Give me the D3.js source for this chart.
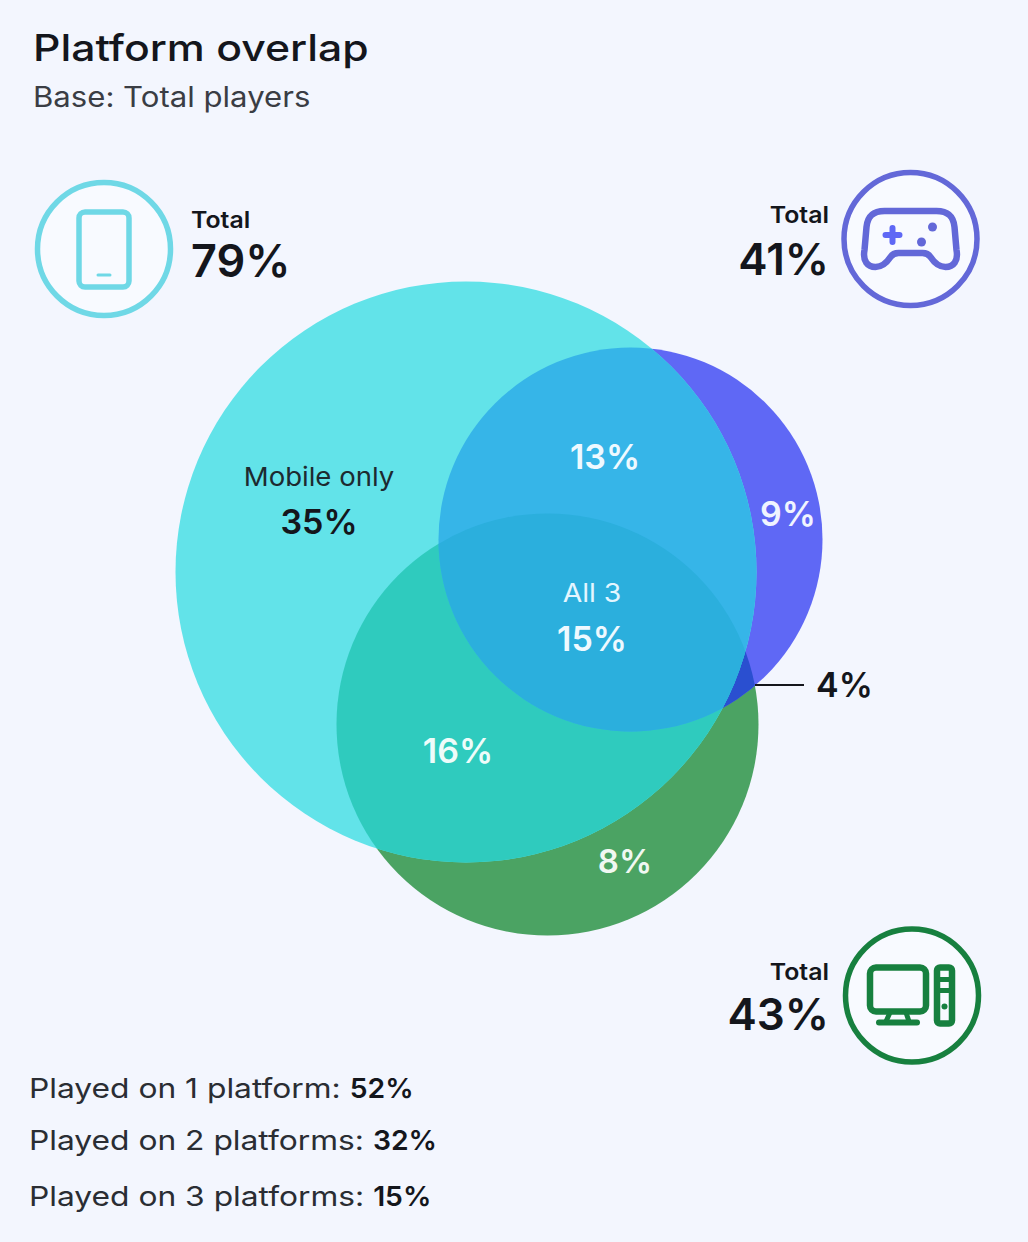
<!DOCTYPE html>
<html>
<head>
<meta charset="utf-8">
<script src="https://cdn.jsdelivr.net/npm/d3@7"></script>
<style>
  html, body { margin: 0; padding: 0; background: #f3f6fe; }
  svg { display: block; }
  text { font-family: Inter, "Noto Sans", sans-serif; fill: #14161c; }
</style>
</head>
<body>
<svg width="1028" height="1242"></svg>
<script>
// 数据
const platforms = ["Mobile", "Console", "PC"];
const platformTotals = [79, 41, 43];
const regionNames = ["Mobile only", "Console only", "PC only", "Mobile + Console", "Mobile + PC", "Console + PC", "All 3"];
const regionValues = [35, 9, 8, 13, 16, 4, 15];
const summaryLabels = ["Played on 1 platform: ", "Played on 2 platforms: ", "Played on 3 platforms: "];
const summaryValues = [52, 32, 15];

// 版面
const WIDTH = 1028, HEIGHT = 1242;
const radius = d3.scaleLinear().domain([41, 43, 79]).range([192, 211, 290.5]);
const centers = { Mobile: [466, 572], Console: [630.5, 539.5], PC: [547.5, 724.5] };
const platformColor = d3.scaleOrdinal().domain(platforms).range(["#62e3e9", "#5f68f5", "#4ba363"]);
const iconColor = d3.scaleOrdinal().domain(platforms).range(["#6fd8e6", "#6368d8", "#17803f"]);
const fmt = v => v + "%";

const svg = d3.select("svg");
svg.append("rect").attr("width", WIDTH).attr("height", HEIGHT).attr("fill", "#f3f6fe");

// 字体偏窄 横向拉宽
function addText(parent, x, y, str, size, k, weight, color, anchor) {
  return parent.append("text")
    .attr("transform", "translate(" + x + "," + y + ") scale(" + k + ",1)")
    .attr("font-size", size)
    .attr("font-weight", weight || 400)
    .attr("text-anchor", anchor || "start")
    .style("fill", color || "#14161c")
    .text(str);
}

addText(svg, 33, 61, "Platform overlap", 37, 1.155, 500);
addText(svg, 33, 107, "Base: Total players", 28, 1.112, 400, "#3a3d44");

// clip 圆
const defs = svg.append("defs");
platforms.forEach(p => {
  defs.append("clipPath").attr("id", "clip" + p).append("circle")
    .attr("cx", centers[p][0]).attr("cy", centers[p][1])
    .attr("r", radius(platformTotals[platforms.indexOf(p)]));
});

const venn = svg.append("g");

// 三个圆
function circleOf(parent, p, fill) {
  return parent.append("circle")
    .attr("cx", centers[p][0]).attr("cy", centers[p][1])
    .attr("r", radius(platformTotals[platforms.indexOf(p)]))
    .attr("fill", fill);
}
["PC", "Console", "Mobile"].forEach(p => circleOf(venn, p, platformColor(p)));

// 交集 一层层裁剪
function overlap(a, b, fill) {
  const outer = venn.append("g").attr("clip-path", "url(#clip" + a + ")");
  circleOf(outer, b, fill);
}
overlap("Console", "PC", "#2a4fd0");
overlap("Mobile", "PC", "#2fcbbe");
overlap("Mobile", "Console", "#36b5e8");
const triple = venn.append("g").attr("clip-path", "url(#clipMobile)")
  .append("g").attr("clip-path", "url(#clipConsole)");
circleOf(triple, "PC", "#2bafdd");

// 区域标签
const regionText = [
  { i: 0, x: 319, y: 534, size: 34, color: "#14161c", capY: 486, capX: 319, capK: 1.06, capColor: "#1d2a30" },
  { i: 1, x: 788, y: 526, size: 34, color: "#f0f4ff" },
  { i: 2, x: 625, y: 873, size: 33, color: "#f0f8f2" },
  { i: 3, x: 605, y: 469, size: 34, color: "#eef9ff" },
  { i: 4, x: 458, y: 763, size: 34, color: "#eefcfa" },
  { i: 6, x: 592, y: 651, size: 34, color: "#eef9ff", capY: 602, capX: 592, capK: 1.09, capColor: "#e4f6ff" }
];
regionText.forEach(d => {
  addText(svg, d.x, d.y, fmt(regionValues[d.i]), d.size, 1, 600, d.color, "middle");
  if (d.capY) addText(svg, d.capX, d.capY, regionNames[d.i], 26, d.capK, 400, d.capColor, "middle");
});

// 4% 引线
svg.append("line").attr("x1", 755).attr("x2", 804).attr("y1", 685).attr("y2", 685)
  .attr("stroke", "#14161c").attr("stroke-width", 2);
addText(svg, 816, 697, fmt(regionValues[5]), 34, 1, 600);

// 总计
const totalText = [
  { x: 191, anchor: "start", yCap: 228, yVal: 277, size: 45 },
  { x: 829, anchor: "end", yCap: 223, yVal: 275, size: 44 },
  { x: 829, anchor: "end", yCap: 980, yVal: 1030, size: 44 }
];
platforms.forEach((p, i) => {
  const t = totalText[i];
  addText(svg, t.x, t.yCap, "Total", 23, 1.08, 600, "#14161c", t.anchor);
  addText(svg, t.x, t.yVal, fmt(platformTotals[i]), t.size, 1, 600, "#14161c", t.anchor);
});

// 图标
function badge(cx, cy, p) {
  const c = iconColor(p);
  const g = svg.append("g").attr("transform", "translate(" + cx + "," + cy + ")")
    .attr("fill", "none").attr("stroke", c).attr("stroke-width", 5.5)
    .attr("stroke-linecap", "round").attr("stroke-linejoin", "round");
  g.append("circle").attr("r", 66.5).attr("fill", "#f8faff");
  return g;
}

const phone = badge(104, 249, "Mobile");
phone.append("rect").attr("x", -25).attr("y", -37).attr("width", 50).attr("height", 75).attr("rx", 6);
phone.append("line").attr("x1", -6).attr("x2", 6).attr("y1", 26).attr("y2", 26).attr("stroke-width", 3);

const pad = badge(910.5, 239, "Console");
pad.append("path").attr("stroke-width", 6.5).attr("d",
  "M-26,-28 L26,-28 C38,-28 43,-22 44,-12 L46,11 C48,22 43,28 35,28 C28,28 24,24 20,18 " +
  "C18,15 16,14 12,14 L-12,14 C-16,14 -18,15 -20,18 C-24,24 -28,28 -35,28 " +
  "C-43,28 -48,22 -46,11 L-44,-12 C-43,-22 -38,-28 -26,-28 Z");
pad.append("path").attr("d", "M-18,-11 V3 M-25,-4 H-11").attr("stroke", "#5f68f5").attr("stroke-width", 6);
pad.append("circle").attr("cx", 22).attr("cy", -12).attr("r", 4.5).attr("fill", "#6368d8").attr("stroke", "none");
pad.append("circle").attr("cx", 11).attr("cy", 3).attr("r", 4.5).attr("fill", "#6368d8").attr("stroke", "none");

const pc = badge(912, 995.5, "PC");
pc.append("rect").attr("x", -42).attr("y", -28).attr("width", 56).attr("height", 44).attr("rx", 6).attr("stroke-width", 6.5);
pc.append("path").attr("d", "M-22,17 L-26,26 M-6,17 L-3,26").attr("stroke-width", 5);
pc.append("line").attr("x1", -33).attr("x2", 5).attr("y1", 27).attr("y2", 27).attr("stroke-width", 6);
pc.append("rect").attr("x", 25).attr("y", -28).attr("width", 15).attr("height", 56).attr("rx", 3).attr("stroke-width", 6.5);
pc.append("path").attr("d", "M25,-16 H40 M25,-5 H40").attr("stroke-width", 5);
pc.append("circle").attr("cx", 32.5).attr("cy", 11).attr("r", 3).attr("fill", "#17803f").attr("stroke", "none");

// 底部
const summaryY = d3.scaleOrdinal().domain(summaryLabels).range([1098, 1150, 1206]);
const LABEL_K = 1.155;
summaryLabels.forEach((s, i) => {
  const label = addText(svg, 29, summaryY(s), s, 27.5, LABEL_K, 400, "#2a2d33").style("white-space", "pre");
  const w = label.node().getComputedTextLength() * LABEL_K;
  addText(svg, 29 + w, summaryY(s), fmt(summaryValues[i]), 27.5, 1.03, 600);
});
</script>
</body>
</html>
